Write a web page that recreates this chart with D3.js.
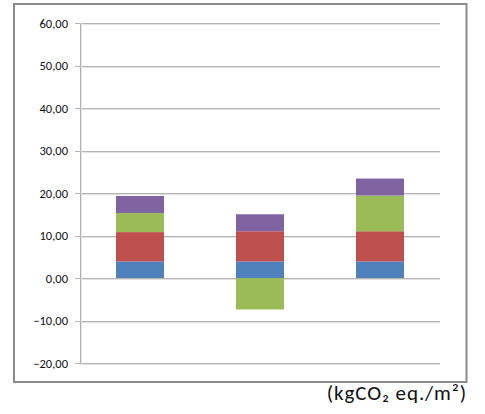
<!DOCTYPE html>
<html><head><meta charset="utf-8">
<script src="https://cdn.jsdelivr.net/npm/d3@7"></script>
<style>
body{margin:0;background:#fff;}
svg{display:block;}
text{font-family:Carlito,Calibri,"Open Sans",sans-serif;}
</style></head>
<body><svg id="c" width="485" height="414"></svg>
<script>
const categories = ["A", "B", "C"];
const seriesNames = ["S1", "S2", "S3", "S4"];
const blue   = [3.9, 3.9, 3.9];
const red    = [6.9, 7.1, 7.1];
const green  = [4.5, -7.4, 8.4];
const purple = [4.0, 4.0, 4.0];
const yTicks = [-20, -10, 0, 10, 20, 30, 40, 50, 60];
const unitLabel = "(kgCO₂ eq./m²)";
const colors = ["#4F81BD", "#C0504D", "#9BBB59", "#8064A2"];

const svg = d3.select("#c");
const x0 = 80, x1 = 440, yTop = 23, yBot = 363;
const x = d3.scaleBand().domain(categories).range([x0, x1]).paddingInner(0.6).paddingOuter(0.3);
const y = d3.scaleLinear().domain([-20, 60]).range([yBot, yTop]);

// frame
svg.append("rect").attr("x", 14).attr("y", 4).attr("width", 452.5).attr("height", 378)
  .attr("fill", "#fff").attr("stroke", "#8c8c8c").attr("stroke-width", 2);

// gridlines
const g = svg.append("g");
g.selectAll("line.grid").data(yTicks).join("line")
  .attr("x1", x0 - 5).attr("x2", x1)
  .attr("y1", d => Math.round(y(d)) + 0.5).attr("y2", d => Math.round(y(d)) + 0.5)
  .attr("stroke", "#b3b3b3").attr("stroke-width", 1);
g.selectAll("line.grid2").data(yTicks).join("line")
  .attr("x1", x0).attr("x2", x1)
  .attr("y1", d => Math.round(y(d)) + 1.5).attr("y2", d => Math.round(y(d)) + 1.5)
  .attr("stroke", "#e2e2e2").attr("stroke-width", 1);

// axis
const axis = d3.axisLeft(y).tickValues(yTicks).tickSize(0).tickPadding(12)
  .tickFormat(d => d3.format(".2f")(d).replace(".", ","));
const ax = svg.append("g").attr("transform", `translate(${x0},0)`).call(axis);
ax.select(".domain").remove();
ax.selectAll("text").attr("font-size", 12.5).attr("fill", "#111")
  .style("font-family", 'Carlito,Calibri,"Open Sans",sans-serif');
svg.append("line").attr("x1", x0 + 0.5).attr("x2", x0 + 0.5).attr("y1", yTop).attr("y2", yBot + 1)
  .attr("stroke", "#b3b3b3");
svg.append("line").attr("x1", x0 + 1.5).attr("x2", x0 + 1.5).attr("y1", yTop).attr("y2", yBot + 1)
  .attr("stroke", "#e2e2e2");

// stacked bars (positives stack up, negatives stack down)
const seriesVals = [blue, red, green, purple];
const rects = [];
categories.forEach((c, i) => {
  let pos = 0, neg = 0;
  seriesVals.forEach((arr, s) => {
    const v = arr[i];
    let a, b;
    if (v >= 0) { a = pos; b = pos + v; pos = b; } else { a = neg; b = neg + v; neg = b; }
    rects.push({c, s, a, b});
  });
});
svg.append("g").selectAll("rect").data(rects).join("rect")
  .attr("x", d => x(d.c)).attr("width", x.bandwidth())
  .attr("y", d => y(Math.max(d.a, d.b)))
  .attr("height", d => Math.abs(y(d.a) - y(d.b)))
  .attr("fill", d => colors[d.s]);

// unit label
svg.append("text").attr("x", 467).attr("y", 400).attr("text-anchor", "end")
  .attr("font-size", 21).attr("letter-spacing", 0.9).attr("fill", "#111").text(unitLabel);
</script></body></html>
